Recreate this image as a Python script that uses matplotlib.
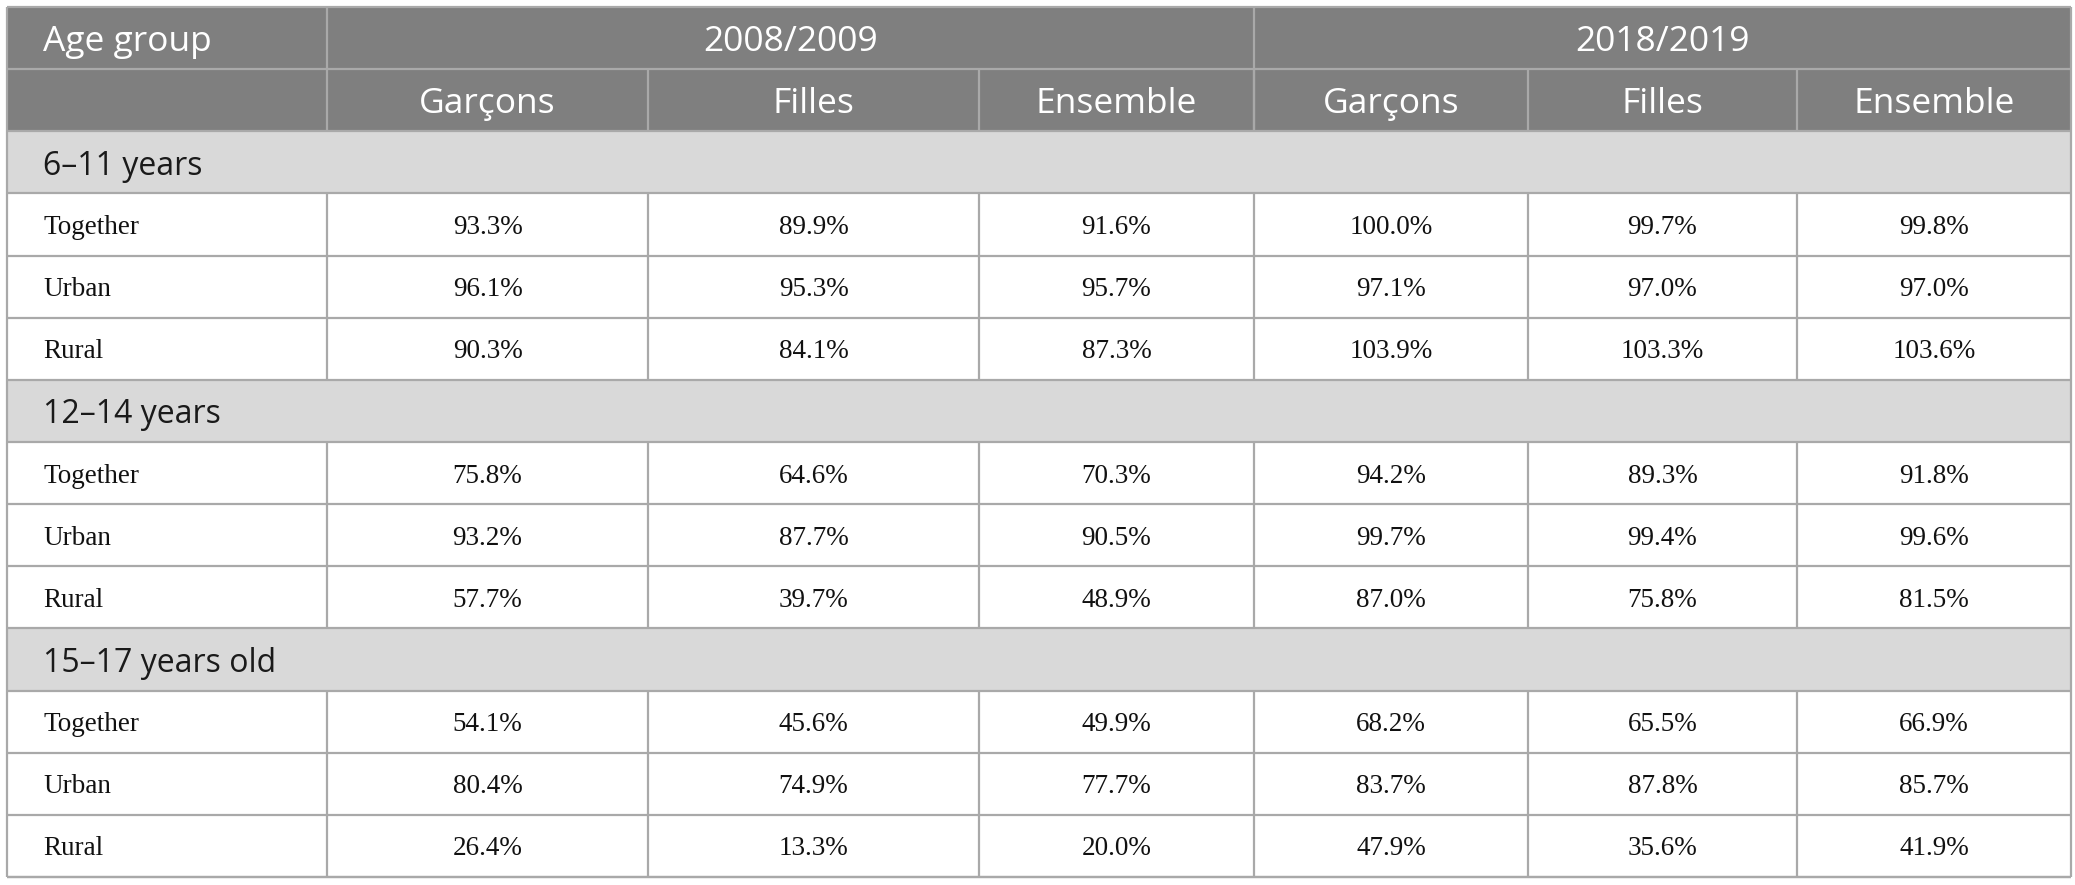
import matplotlib.pyplot as plt
from matplotlib.patches import Rectangle

# ---------- DATA ----------
periods = ["2008/2009", "2018/2019"]
sexes = ["Garçons", "Filles", "Ensemble"]
age_groups = ["6\u201311 years", "12\u201314 years", "15\u201317 years old"]
areas = ["Together", "Urban", "Rural"]

# rows per age group: Garçons, Filles, Ensemble (2008/2009) then same for 2018/2019
values_6_11 = [
    [93.3, 89.9, 91.6, 100.0, 99.7, 99.8],
    [96.1, 95.3, 95.7, 97.1, 97.0, 97.0],
    [90.3, 84.1, 87.3, 103.9, 103.3, 103.6],
]
values_12_14 = [
    [75.8, 64.6, 70.3, 94.2, 89.3, 91.8],
    [93.2, 87.7, 90.5, 99.7, 99.4, 99.6],
    [57.7, 39.7, 48.9, 87.0, 75.8, 81.5],
]
values_15_17 = [
    [54.1, 45.6, 49.9, 68.2, 65.5, 66.9],
    [80.4, 74.9, 77.7, 83.7, 87.8, 85.7],
    [26.4, 13.3, 20.0, 47.9, 35.6, 41.9],
]
group_values = [values_6_11, values_12_14, values_15_17]

# ---------- LAYOUT (pixels) ----------
W, H = 2075, 885
col_edges = [7, 327, 648, 979, 1254, 1528, 1797, 2071]
top, bottom = 7, 877
n_rows = 2 + len(age_groups) * (1 + len(areas))
row_h = (bottom - top) / n_rows

HEAD_BG = "#7f7f7f"
GROUP_BG = "#d9d9d9"
LINE = "#a9a9a9"
SANS = "Open Sans"
SERIF = "Liberation Serif"
HEAD_FS = 25.5
GROUP_FS = 23
DATA_FS = 19.5

fig = plt.figure(figsize=(W / 100, H / 100), dpi=100)
ax = fig.add_axes([0, 0, 1, 1])
ax.set_xlim(0, W)
ax.set_ylim(H, 0)
ax.axis("off")

x0, x1 = col_edges[0], col_edges[-1]
text_pad = 36


def hline(y, xa=x0, xb=x1):
    ax.plot([xa, xb], [y, y], color=LINE, lw=1.6, solid_capstyle="butt", zorder=3)


def vline(x, ya, yb):
    ax.plot([x, x], [ya, yb], color=LINE, lw=1.6, solid_capstyle="butt", zorder=3)


# header background
ax.add_patch(Rectangle((x0, top), x1 - x0, 2 * row_h, color=HEAD_BG, lw=0, zorder=1))

# header row 1
y_mid = top + row_h / 2
ax.text(x0 + text_pad, y_mid, "Age group", color="white", fontsize=HEAD_FS,
        family=SANS, ha="left", va="center_baseline")
for i, period in enumerate(periods):
    xa = col_edges[1 + 3 * i]
    xb = col_edges[4 + 3 * i]
    ax.text((xa + xb) / 2, y_mid, period, color="white", fontsize=HEAD_FS,
            family=SANS, ha="center", va="center_baseline")
vline(col_edges[1], top, top + 2 * row_h)
vline(col_edges[4], top, top + 2 * row_h)
hline(top + row_h)

# header row 2
y_mid = top + 1.5 * row_h
for j in range(6):
    xa, xb = col_edges[1 + j], col_edges[2 + j]
    ax.text((xa + xb) / 2, y_mid, sexes[j % 3], color="white", fontsize=HEAD_FS,
            family=SANS, ha="center", va="center_baseline")
    if j > 0:
        vline(xa, top + row_h, top + 2 * row_h)
hline(top + 2 * row_h)

# body
y = top + 2 * row_h
for g, group in enumerate(age_groups):
    ax.add_patch(Rectangle((x0, y), x1 - x0, row_h, color=GROUP_BG, lw=0, zorder=1))
    ax.text(x0 + text_pad, y + row_h / 2, group, color="#1a1a1a", fontsize=GROUP_FS,
            family=SANS, ha="left", va="center_baseline")
    y += row_h
    hline(y)
    for r, area in enumerate(areas):
        ym = y + row_h / 2
        ax.text(x0 + text_pad, ym, area, color="#111111", fontsize=DATA_FS,
                family=SERIF, ha="left", va="center_baseline")
        for j, v in enumerate(group_values[g][r]):
            xa, xb = col_edges[1 + j], col_edges[2 + j]
            ax.text((xa + xb) / 2, ym, f"{v:.1f}%", color="#111111", fontsize=DATA_FS,
                    family=SERIF, ha="center", va="center_baseline")
        for xe in col_edges[1:-1]:
            vline(xe, y, y + row_h)
        y += row_h
        hline(y)

# outer border
vline(x0, top, bottom)
vline(x1, top, bottom)
hline(top)
hline(bottom)

fig.savefig("out.png", dpi=100, facecolor="white")
